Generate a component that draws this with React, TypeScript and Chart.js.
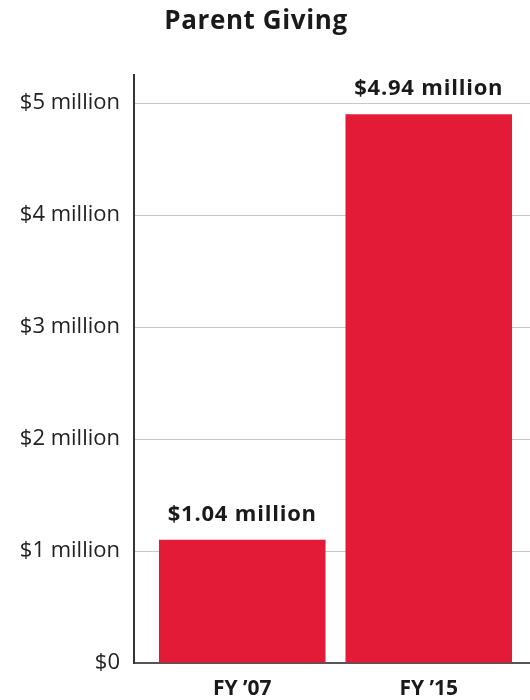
import React, { useEffect, useRef } from "react";
import { Chart, registerables, CategoryScale } from "chart.js";

class ShiftedCategoryScale extends (CategoryScale as any) {
  static id = "shiftedCategory";
  static defaults = (CategoryScale as any).defaults;
  configure() {
    super.configure();
    const s = (this as any).options.shift || { left: 0, right: 0 };
    (this as any)._startPixel += s.left;
    (this as any)._endPixel -= s.right;
    (this as any)._length = (this as any)._endPixel - (this as any)._startPixel;
  }
}

Chart.register(...registerables, ShiftedCategoryScale as any);

const title = "Parent Giving";
const categories = ["FY \u201907", "FY \u201915"];
const values = [1.1, 4.9];
const valueLabels = ["$1.04 million", "$4.94 million"];
const yTickLabels = ["$0", "$1 million", "$2 million", "$3 million", "$4 million", "$5 million"];

const FONT = "'Open Sans', Lato, sans-serif";

const overlayPlugin = {
  id: "overlay",
  afterDatasetsDraw(chart: any) {
    const ctx = chart.ctx;
    const meta = chart.getDatasetMeta(0);
    ctx.save();
    ctx.fillStyle = "#1a1a1a";
    ctx.textAlign = "center";
    ctx.textBaseline = "middle";
    ctx.font = `bold 22px ${FONT}`;
    (ctx as any).letterSpacing = "0.8px";
    meta.data.forEach((bar: any, i: number) => {
      ctx.fillText(valueLabels[i], bar.x, bar.y - 25);
    });
    ctx.font = `bold 26px ${FONT}`;
    (ctx as any).letterSpacing = "0.6px";
    ctx.fillText(title, 256, 22);
    ctx.restore();
  },
};

export default function App() {
  const ref = useRef<HTMLCanvasElement | null>(null);
  useEffect(() => {
    if (!ref.current) return;
    const chart = new Chart(ref.current, {
      type: "bar",
      data: {
        labels: categories,
        datasets: [
          {
            data: values,
            backgroundColor: "#E41B36",
            borderWidth: 0,
            barPercentage: 0.94,
            categoryPercentage: 0.95,
          },
        ],
      },
      plugins: [overlayPlugin],
      options: {
        responsive: false,
        animation: false,
        layout: { padding: { top: 75, right: 0, left: 0, bottom: 0 } },
        plugins: { legend: { display: false }, tooltip: { enabled: false }, title: { display: false } },
        scales: {
          x: {
            type: "shiftedCategory",
            shift: { left: 15, right: 8 },
            grid: { display: false, drawTicks: false },
            border: { display: true, color: "#555", width: 2 },
            ticks: { color: "#1a1a1a", padding: 13, font: { family: FONT, size: 21, weight: "bold" } },
            afterFit: (scale: any) => {
              scale.height = 37;
            },
          } as any,
          y: {
            min: 0,
            max: 5.25,
            ticks: {
              stepSize: 1,
              padding: 14,
              color: "#222",
              font: { family: FONT, size: 22 },
              callback: (v: any) => (Number.isInteger(v) ? yTickLabels[v] : ""),
            },
            afterBuildTicks: (scale: any) => {
              scale.ticks = scale.ticks.filter((t: any) => Number.isInteger(t.value));
            },
            afterFit: (scale: any) => {
              scale.width = 134;
            },
            grid: { color: "#c8c8c8", lineWidth: 1, drawTicks: false },
            border: { display: true, color: "#333", width: 2 },
          },
        },
      },
    });
    return () => chart.destroy();
  }, []);
  return (
    <div style={{ position: "absolute", left: 0, top: 0, width: 530, height: 700, background: "#fff" }}>
      <canvas ref={ref} width={530} height={700} style={{ width: 530, height: 700 }} />
    </div>
  );
}
